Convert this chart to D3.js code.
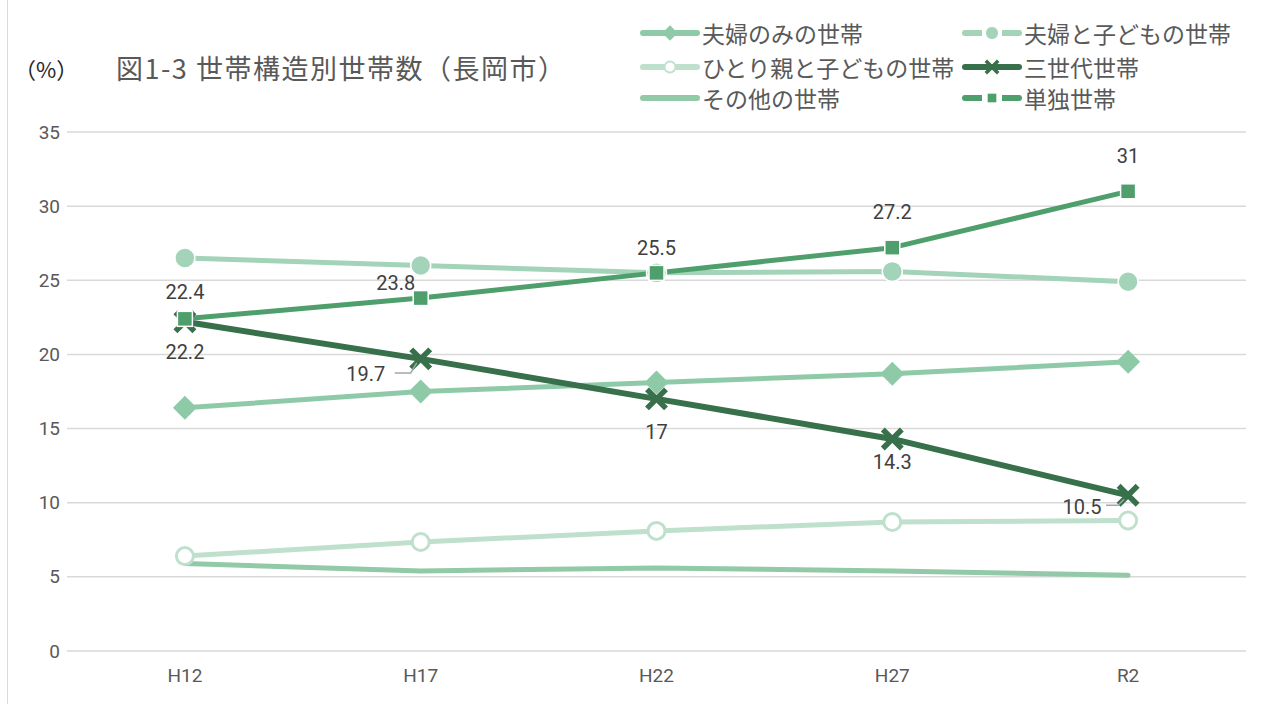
<!DOCTYPE html>
<html>
<head>
<meta charset="utf-8">
<script src="https://cdn.jsdelivr.net/npm/d3@7"></script>
<style>
  body { margin: 0; background: #fff; }
  text { font-family: "Noto Sans CJK JP", "Noto Sans", sans-serif; }
  .tick text { font-family: Roboto, "Liberation Sans", sans-serif; }
</style>
</head>
<body>
<div id="chart"></div>
<script>
// data
let years = ["H12", "H17", "H22", "H27", "R2"];
let yTicks = [0, 5, 10, 15, 20, 25, 30, 35];

let fufuOnly   = [16.4, 17.5, 18.1, 18.7, 19.5];
let fufuKodomo = [26.5, 26.0, 25.5, 25.6, 24.9];
let hitorioya  = [6.4, 7.35, 8.1, 8.7, 8.8];
let sansedai   = [22.2, 19.7, 17, 14.3, 10.5];
let sonota     = [5.9, 5.4, 5.6, 5.4, 5.1];
let tandoku    = [22.4, 23.8, 25.5, 27.2, 31];

let width = 1274, height = 704;
let margin = {left: 67, right: 28, top: 132, bottom: 53};

let svg = d3.select("#chart")
    .append("svg")
    .attr("width", width)
    .attr("height", height);

// outer frame (left edge visible)
svg.append("line")
    .attr("x1", 7.5).attr("x2", 7.5)
    .attr("y1", 0).attr("y2", height)
    .attr("stroke", "#d9d9d9");

let x = d3.scaleBand()
    .domain(years)
    .range([margin.left, width - margin.right]);

let y = d3.scaleLinear()
    .domain([0, 35])
    .range([height - margin.bottom, margin.top]);

let cx = d => x(d) + x.bandwidth() / 2;

// grid
svg.append("g")
    .selectAll("line")
    .data(yTicks)
    .enter()
    .append("line")
    .attr("x1", margin.left)
    .attr("x2", width - margin.right)
    .attr("y1", d => y(d))
    .attr("y2", d => y(d))
    .attr("stroke", "#d9d9d9")
    .attr("stroke-width", 1.5);

let yAxis = svg.append("g")
    .attr("transform", `translate(${margin.left - 7},0)`)
    .call(d3.axisLeft(y).tickValues(yTicks).tickSize(0).tickPadding(0));
yAxis.select(".domain").remove();
yAxis.selectAll("text").style("font-size", "19px").attr("fill", "#595959");

let xAxis = svg.append("g")
    .attr("transform", `translate(0,${height - margin.bottom})`)
    .call(d3.axisBottom(x).tickSize(0).tickPadding(18));
xAxis.select(".domain").remove();
xAxis.selectAll("text").style("font-size", "19px").attr("fill", "#595959");

// series
let series = [
    {name: "夫婦のみの世帯", values: fufuOnly, color: "#8fcaa8", marker: "diamond", w: 5},
    {name: "夫婦と子どもの世帯", values: fufuKodomo, color: "#a3d3b8", marker: "circle", w: 5},
    {name: "ひとり親と子どもの世帯", values: hitorioya, color: "#bfe0cc", marker: "open", w: 5},
    {name: "三世代世帯", values: sansedai, color: "#37704a", marker: "x", w: 6},
    {name: "その他の世帯", values: sonota, color: "#92c9a6", marker: "none", w: 5},
    {name: "単独世帯", values: tandoku, color: "#4e9f6c", marker: "square", w: 5}
];

let line = d3.line()
    .x((d, i) => cx(years[i]))
    .y(d => y(d));

function drawMarker(g, type, color, px, py, scale) {
    let s = scale || 1;
    if (type == "diamond") {
        let r = 12 * s;
        g.append("path")
            .attr("d", `M${px},${py - r}L${px + r},${py}L${px},${py + r}L${px - r},${py}Z`)
            .attr("fill", color);
    } else if (type == "circle") {
        g.append("circle").attr("cx", px).attr("cy", py).attr("r", 10 * s)
            .attr("fill", color).attr("stroke", "#fff").attr("stroke-width", 1.5 * s);
    } else if (type == "open") {
        g.append("circle").attr("cx", px).attr("cy", py).attr("r", 8.5 * s)
            .attr("fill", "#fff").attr("stroke", color).attr("stroke-width", 3 * s);
    } else if (type == "square") {
        let h = 7.5 * s;
        g.append("rect").attr("x", px - h).attr("y", py - h)
            .attr("width", h * 2).attr("height", h * 2)
            .attr("fill", color).attr("stroke", "#fff").attr("stroke-width", 1.5 * s);
    } else if (type == "x") {
        let h = 9.5 * s;
        g.append("path")
            .attr("d", `M${px - h},${py - h}L${px + h},${py + h}M${px + h},${py - h}L${px - h},${py + h}`)
            .attr("stroke", color).attr("stroke-width", 5.5 * s).attr("fill", "none");
    }
}

let plot = svg.append("g");
series.forEach(s => {
    plot.append("path")
        .datum(s.values)
        .attr("d", line)
        .attr("fill", "none")
        .attr("stroke", s.color)
        .attr("stroke-width", s.w)
        .attr("stroke-linecap", "round")
        .attr("stroke-linejoin", "round");
});
series.forEach(s => {
    s.values.forEach((v, i) => drawMarker(plot, s.marker, s.color, cx(years[i]), y(v)));
});

// data labels
let tandokuOffsets = [[0, -27], [-25, -15], [0, -25], [0, -36], [0, -35]];
let sansedaiOffsets = [[0, 30], [-55, 15], [0, 33], [0, 23], [-46, 12]];
let labels = svg.append("g");
function addLabels(vals, offs) {
    vals.forEach((v, i) => {
        labels.append("text")
            .attr("x", cx(years[i]) + offs[i][0])
            .attr("y", y(v) + offs[i][1])
            .attr("text-anchor", "middle")
            .attr("dominant-baseline", "central")
            .style("font-family", "Roboto, 'Liberation Sans', sans-serif")
            .style("font-size", "20px")
            .attr("fill", "#404040")
            .text(v);
    });
}
addLabels(tandoku, tandokuOffsets);
addLabels(sansedai, sansedaiOffsets);

// small leader lines for the shifted labels
[[1, -26, 14], [4, -22, 10]].forEach(p => {
    let px = cx(years[p[0]]), py = y(sansedai[p[0]]);
    labels.append("path")
        .attr("d", `M${px + p[1]},${py + p[2]}L${px - 10},${py + p[2]}L${px - 4},${py + 4}`)
        .attr("stroke", "#a6a6a6").attr("stroke-width", 1.5).attr("fill", "none");
});

// title
svg.append("text")
    .attr("x", 14).attr("y", 78)
    .style("font-size", "22px")
    .attr("fill", "#262626")
    .text("（%）");
svg.append("text")
    .attr("x", 116).attr("y", 79)
    .style("font-size", "27px")
    .style("letter-spacing", "1.5px")
    .attr("fill", "#595959")
    .text("図1-3  世帯構造別世帯数（長岡市）");

// legend
let legendPos = [[640, 33], [962, 33], [640, 67], [962, 67], [640, 98], [962, 98]];
let legend = svg.append("g");
series.forEach((s, i) => {
    let lx = legendPos[i][0], ly = legendPos[i][1];
    legend.append("line")
        .attr("x1", lx + 3).attr("x2", lx + 57)
        .attr("y1", ly).attr("y2", ly)
        .attr("stroke", s.color)
        .attr("stroke-width", 6)
        .attr("stroke-linecap", "round");
    if (s.marker == "circle" || s.marker == "square") {
        legend.append("rect")
            .attr("x", lx + 20).attr("y", ly - 5)
            .attr("width", 20).attr("height", 10)
            .attr("fill", "#fff");
    }
    drawMarker(legend, s.marker, s.color, lx + 30, ly, 0.65);
    legend.append("text")
        .attr("x", lx + 62).attr("y", ly)
        .attr("dominant-baseline", "central")
        .style("font-size", "23px")
        .attr("fill", "#595959")
        .text(s.name);
});
</script>
</body>
</html>
